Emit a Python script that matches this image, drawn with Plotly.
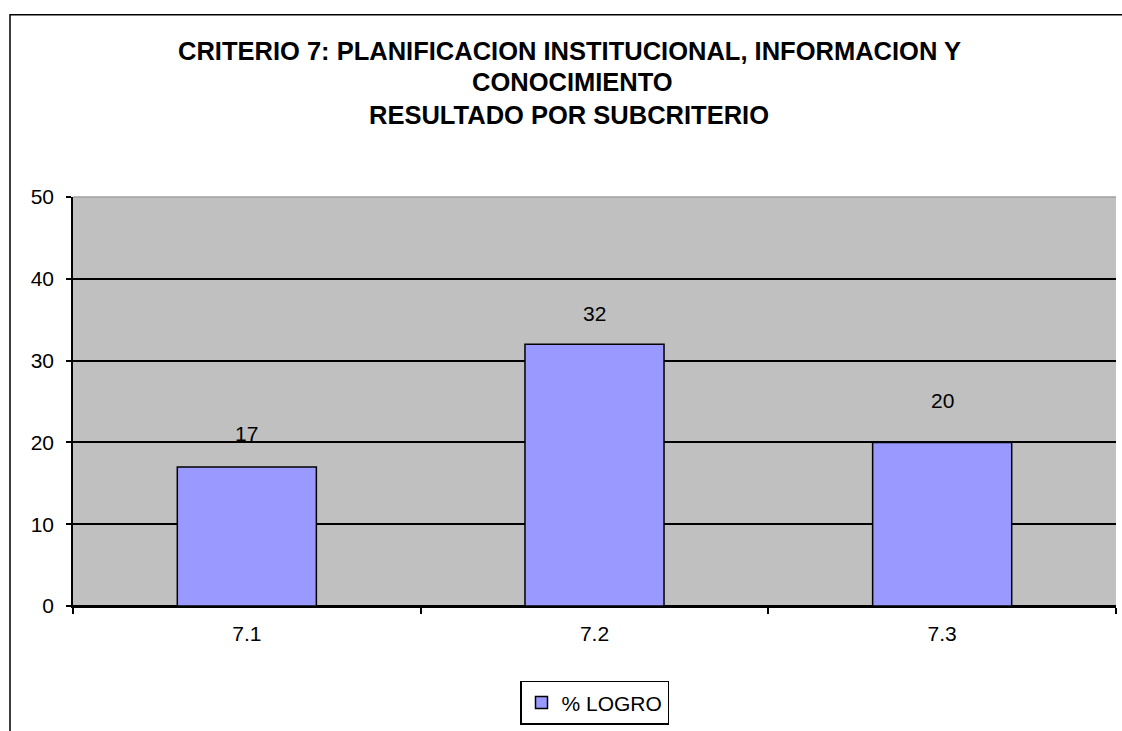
import plotly.graph_objects as go

categories = ["7.1", "7.2", "7.3"]
logro = [17, 32, 20]
series_name = "% LOGRO"
title_lines = ["CRITERIO 7: PLANIFICACION INSTITUCIONAL, INFORMACION Y",
               "CONOCIMIENTO",
               "RESULTADO POR SUBCRITERIO"]
y_ticks = [0, 10, 20, 30, 40, 50]

# layout geometry (pixels)
W, H = 1122, 731
L, R, T, B = 73, 6, 197, 119
PW, PH = W - L - R, H - T - B
def px(x): return (x - L) / PW
def py(y): return (H - B - y) / PH

FONT = "Liberation Sans, Arial, sans-serif"

fig = go.Figure()
fig.add_trace(go.Bar(
    x=categories, y=logro, name=series_name,
    marker=dict(color="#9999FF", line=dict(color="black", width=1.5)),
    width=0.4,
))

# data labels above bars (category index positions)
label_shift = [33, 31, 42]
for i, (v, s) in enumerate(zip(logro, label_shift)):
    fig.add_annotation(x=i, y=v, xref="x", yref="y", text=str(v),
                       showarrow=False, yshift=s,
                       font=dict(family=FONT, size=21, color="black"))

# title lines
title_x = [569, 572, 569]
title_y = [48.5, 80.5, 113.7]
for t, xx, yy in zip(title_lines, title_x, title_y):
    fig.add_annotation(xref="paper", yref="paper", x=px(xx), y=py(yy),
                       text="<b>" + t + "</b>", showarrow=False,
                       xanchor="center", yanchor="middle",
                       font=dict(family=FONT, size=25.5, color="black"))

# outer chart frame (left & top visible)
fig.add_shape(type="rect", xref="paper", yref="paper",
              x0=px(10), y0=py(H + 20), x1=px(W + 20), y1=py(12),
              line=dict(color="black", width=1.5), fillcolor="rgba(0,0,0,0)",
              layer="below")
# top border of plot area (light gray instead of black grid)
fig.add_shape(type="line", xref="paper", yref="paper",
              x0=0, x1=1, y0=1, y1=1, line=dict(color="#A0A0A0", width=1.5))

fig.update_layout(
    width=W, height=H,
    margin=dict(l=L, r=R, t=T, b=B),
    paper_bgcolor="white",
    plot_bgcolor="#C0C0C0",
    font=dict(family=FONT, size=21, color="black"),
    showlegend=True,
    legend=dict(x=0.5, xanchor="center", y=py(688), yanchor="top",
                orientation="h", bordercolor="black", borderwidth=1.5,
                bgcolor="white", font=dict(family=FONT, size=21)),
    bargap=0.6,
    xaxis=dict(
        type="category", range=[-0.5, len(categories) - 0.5],
        showline=True, linecolor="black", linewidth=1.5,
        ticks="outside", tickson="boundaries", ticklen=6, tickcolor="black",
        tickwidth=1.5, ticklabelstandoff=8, showgrid=False,
        tickfont=dict(family=FONT, size=21),
    ),
    yaxis=dict(
        range=[0, 50], tickvals=y_ticks, showline=True, linecolor="black",
        linewidth=1.5, ticks="outside", ticklen=5, tickcolor="black",
        tickwidth=1.5, showgrid=True, gridcolor="black", gridwidth=1.5,
        zeroline=True, zerolinecolor="black", zerolinewidth=1.5,
        ticklabelstandoff=8, tickfont=dict(family=FONT, size=21),
    ),
)

fig.write_html("out.html")
